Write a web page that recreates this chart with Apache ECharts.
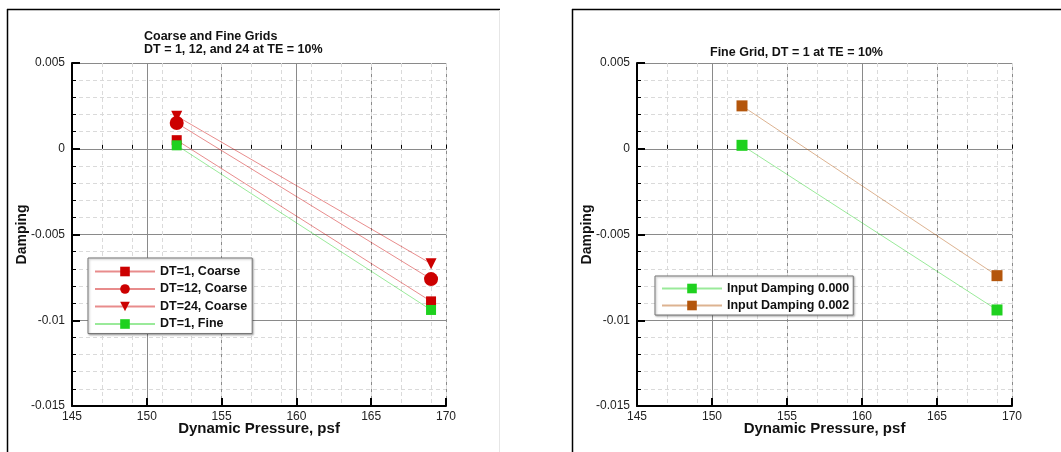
<!DOCTYPE html>
<html>
<head>
<meta charset="utf-8">
<script src="https://cdn.jsdelivr.net/npm/echarts@6/dist/echarts.min.js"></script>
<style>
html,body{margin:0;padding:0;background:#fff;}
#chart{width:1061px;height:452px;}
</style>
</head>
<body>
<div id="chart"></div>
<script>
// ---- data ----
var xValues = [152, 169];
var dt1Coarse = [0.0005, -0.0089];
var dt12Coarse = [0.0015, -0.0076];
var dt24Coarse = [0.0019, -0.0067];
var dt1Fine = [0.0002, -0.0094];
var inputDamping000 = [0.0002, -0.0094];
var inputDamping002 = [0.0025, -0.0074];
var leftTitle = 'Coarse and Fine Grids\nDT = 1, 12, and 24 at TE = 10%';
var rightTitle = 'Fine Grid, DT = 1 at TE = 10%';
var xTitle = 'Dynamic Pressure, psf';
var yTitle = 'Damping';
var leftNames = ['DT=1, Coarse', 'DT=12, Coarse', 'DT=24, Coarse', 'DT=1, Fine'];
var rightNames = ['Input Damping 0.000', 'Input Damping 0.002'];

function pairs(ys) { return xValues.map(function (x, i) { return [x, ys[i]]; }); }

var FONT = '"Liberation Sans", Arial, Helvetica, sans-serif';
var RED = '#cc0000', GREEN = '#1fd11f', BROWN = '#b4560c';

function mainX(gi) {
  return {
    type: 'value', gridIndex: gi, min: 145, max: 170, interval: 5,
    name: xTitle, nameLocation: 'middle', nameGap: 15, nameMoveOverlap: false,
    nameTextStyle: { fontFamily: FONT, fontWeight: 'bold', fontSize: 15, color: '#111' },
    axisLine: { show: true, onZero: false, lineStyle: { color: '#000', width: 2 } },
    axisTick: { show: true, inside: true, length: 8, lineStyle: { color: '#000', width: 2 } },
    axisLabel: { fontFamily: FONT, fontSize: 12, color: '#222', margin: 5 },
    splitLine: { show: true, lineStyle: { color: '#8a8a8a', width: 1 } }
  };
}
function minorX(gi) {
  // offset axis (value - 145) used only to draw minor ticks/grid at every 2 units
  return {
    type: 'value', gridIndex: gi, min: 0, max: 25, interval: 2, position: 'bottom',
    axisLine: { show: false },
    axisTick: { show: true, inside: true, length: 4, lineStyle: { color: '#000', width: 1 } },
    axisLabel: { show: false },
    splitLine: { show: true, lineStyle: { color: '#dadada', width: 1, type: [4, 3] } }
  };
}
function mainY(gi) {
  return {
    type: 'value', gridIndex: gi, min: -0.015, max: 0.005, interval: 0.005,
    name: yTitle, nameLocation: 'middle', nameGap: 43, nameRotate: 90, nameMoveOverlap: false,
    nameTextStyle: { fontFamily: FONT, fontWeight: 'bold', fontSize: 14, color: '#111' },
    axisLine: { show: true, onZero: false, lineStyle: { color: '#000', width: 2 } },
    axisTick: { show: true, inside: true, length: 8, lineStyle: { color: '#000', width: 2 } },
    minorTick: { show: true, splitNumber: 5, length: 4, lineStyle: { color: '#000', width: 1 } },
    axisLabel: { fontFamily: FONT, fontSize: 12, color: '#222', margin: 7 },
    splitLine: { show: true, lineStyle: { color: '#8a8a8a', width: 1 } },
    minorSplitLine: { show: true, lineStyle: { color: '#dadada', width: 1, type: [4, 3] } }
  };
}
function lineSeries(name, ys, xi, yi, color, symbol, size, rotate) {
  return {
    type: 'line', name: name, data: pairs(ys), xAxisIndex: xi, yAxisIndex: yi,
    symbol: symbol, symbolSize: size, symbolRotate: rotate || 0, showSymbol: true,
    itemStyle: { color: color, opacity: 1 },
    lineStyle: { color: color, width: 1, opacity: 0.45 },
    animation: false
  };
}

var chart = echarts.init(document.getElementById('chart'), null, { renderer: 'canvas' });
chart.setOption({
  backgroundColor: '#fff',
  animation: false,
  title: [
    { text: leftTitle, left: 139, top: 25, textStyle: { fontFamily: FONT, fontWeight: 'bold', fontSize: 12.5, color: '#111', lineHeight: 13 } },
    { text: rightTitle, left: 705, top: 41, textStyle: { fontFamily: FONT, fontWeight: 'bold', fontSize: 12.5, color: '#111' } }
  ],
  grid: [
    { left: 72, top: 63, width: 374, height: 343 },
    { left: 637, top: 63, width: 375, height: 343 }
  ],
  xAxis: [mainX(0), mainX(1), minorX(0), minorX(1)],
  yAxis: [mainY(0), mainY(1)],
  legend: [
    {
      data: leftNames, orient: 'vertical', left: 88, top: 258,
      itemWidth: 60, itemHeight: 12, itemGap: 4.5, padding: [7, 5, 3, 6],
      backgroundColor: '#fff', borderColor: '#777', borderWidth: 1,
      shadowColor: 'rgba(0,0,0,0.3)', shadowBlur: 2, shadowOffsetX: 1, shadowOffsetY: 1,
      textStyle: { fontFamily: FONT, fontWeight: 'bold', fontSize: 12.5, color: '#111' }
    },
    {
      data: rightNames, orient: 'vertical', left: 655, top: 276,
      itemWidth: 60, itemHeight: 12, itemGap: 4, padding: [6, 4, 3, 6],
      backgroundColor: '#fff', borderColor: '#777', borderWidth: 1,
      shadowColor: 'rgba(0,0,0,0.3)', shadowBlur: 2, shadowOffsetX: 1, shadowOffsetY: 1,
      textStyle: { fontFamily: FONT, fontWeight: 'bold', fontSize: 12.5, color: '#111' }
    }
  ],
  series: [
    lineSeries(leftNames[0], dt1Coarse, 0, 0, RED, 'rect', 10),
    lineSeries(leftNames[2], dt24Coarse, 0, 0, RED, 'triangle', 11, 180),
    lineSeries(leftNames[1], dt12Coarse, 0, 0, RED, 'circle', 14),
    lineSeries(leftNames[3], dt1Fine, 0, 0, GREEN, 'rect', 10),
    lineSeries(rightNames[0], inputDamping000, 1, 1, GREEN, 'rect', 11),
    lineSeries(rightNames[1], inputDamping002, 1, 1, BROWN, 'rect', 11)
  ],
  graphic: [
    { type: 'line', shape: { x1: 7, y1: 9.5, x2: 500, y2: 9.5 }, style: { stroke: '#000', lineWidth: 1.5 }, z: 100 },
    { type: 'line', shape: { x1: 7.5, y1: 9, x2: 7.5, y2: 452 }, style: { stroke: '#000', lineWidth: 1.5 }, z: 100 },
    { type: 'line', shape: { x1: 499.5, y1: 10, x2: 499.5, y2: 452 }, style: { stroke: '#e6e6e6', lineWidth: 1 }, z: 100 },
    { type: 'line', shape: { x1: 572, y1: 9.5, x2: 1061, y2: 9.5 }, style: { stroke: '#000', lineWidth: 1.5 }, z: 100 },
    { type: 'line', shape: { x1: 572.5, y1: 9, x2: 572.5, y2: 452 }, style: { stroke: '#000', lineWidth: 1.5 }, z: 100 }
  ]
});
</script>
</body>
</html>
